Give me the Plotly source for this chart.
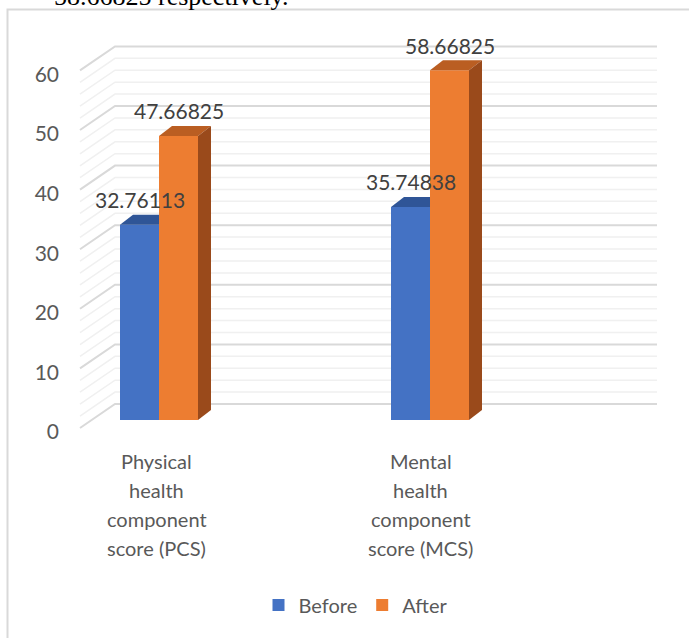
import plotly.graph_objects as go

# ---------------- data ----------------
CATEGORIES = ["Physical health component score (PCS)", "Mental health component score (MCS)"]
CATEGORY_LINES = [["Physical", "health", "component", "score (PCS)"],
                  ["Mental", "health", "component", "score (MCS)"]]
SERIES_NAMES = ["Before", "After"]
BEFORE = [32.76113, 35.74838]
AFTER = [47.66825, 58.66825]
Y_TICKS = [0, 10, 20, 30, 40, 50, 60]
GRID_STEP = 2
CAPTION = "58.66825 respectively."

# ---------------- geometry / style ----------------
W, H = 689, 638
ML, MR, MT, MB = 64, 0, 10, 130
PX_PER_X = 271.0          # pixels per category
PX_PER_Y = 5.96           # pixels per value unit
X0_PIX = 159.0            # pixel of category 0 centre
Y0_PIX = 420.0            # pixel of value 0 on bar plane

plot_w = W - ML - MR
plot_h = H - MT - MB
x_min = (ML - X0_PIX) / PX_PER_X
x_max = (W - MR - X0_PIX) / PX_PER_X
y_max = (Y0_PIX - MT) / PX_PER_Y
y_min = (Y0_PIX - (H - MB)) / PX_PER_Y

def dx(px):  # pixel length -> x units
    return px / PX_PER_X

def dy(px):  # pixel length -> y units
    return px / PX_PER_Y

def paper_x(px):
    return (px - ML) / plot_w

def paper_y(py):
    return (H - MB - py) / plot_h

BAR_W = dx(39)
DEPTH_X = dx(13)
DEPTH_Y = dy(10)

BLUE, BLUE_TOP = "#4472C4", "#2F5597"
ORANGE, ORANGE_TOP, ORANGE_SIDE = "#ED7D31", "#BA5E22", "#9A4A1B"

# wall geometry (front-left, back-left, back-right) in data units
WALL_FRONT_X = dx(80 - X0_PIX)
WALL_BACK_X = dx(115 - X0_PIX)
WALL_RIGHT_X = dx(657 - X0_PIX)
FRONT_DY = -dy(8)
BACK_DY = dy(16)

fig = go.Figure()

cats = list(range(len(CATEGORIES)))
fig.add_trace(go.Bar(x=cats, y=BEFORE, name=SERIES_NAMES[0], width=BAR_W, offset=-BAR_W,
                     marker=dict(color=BLUE, line=dict(width=0)), hoverinfo="skip"))
fig.add_trace(go.Bar(x=cats, y=AFTER, name=SERIES_NAMES[1], width=BAR_W, offset=0,
                     marker=dict(color=ORANGE, line=dict(width=0)), hoverinfo="skip"))

# 3D faces
for i in cats:
    # Before: top face (clipped where the After bar is in front)
    x0, x1 = i - BAR_W, i
    t = BEFORE[i]
    fig.add_trace(go.Scatter(
        x=[x0, x1, x1, x0 + DEPTH_X, x0], y=[t, t, t + DEPTH_Y, t + DEPTH_Y, t],
        fill="toself", fillcolor=BLUE_TOP, mode="none", showlegend=False, hoverinfo="skip"))
    # After: top & side faces
    x0, x1 = i, i + BAR_W
    t = AFTER[i]
    fig.add_trace(go.Scatter(
        x=[x0, x1, x1 + DEPTH_X, x0 + DEPTH_X, x0], y=[t, t, t + DEPTH_Y, t + DEPTH_Y, t],
        fill="toself", fillcolor=ORANGE_TOP, mode="none", showlegend=False, hoverinfo="skip"))
    fig.add_trace(go.Scatter(
        x=[x1, x1 + DEPTH_X, x1 + DEPTH_X, x1, x1], y=[0, DEPTH_Y, t + DEPTH_Y, t, 0],
        fill="toself", fillcolor=ORANGE_SIDE, mode="none", showlegend=False, hoverinfo="skip"))

shapes = []
# wall gridlines
v = Y_TICKS[0]
while v <= Y_TICKS[-1]:
    major = v in Y_TICKS
    path = "M {a},{b} L {c},{d} L {e},{d}".format(
        a=WALL_FRONT_X, b=v + FRONT_DY, c=WALL_BACK_X, d=v + BACK_DY, e=WALL_RIGHT_X)
    shapes.append(dict(type="path", path=path, xref="x", yref="y", layer="below",
                       line=dict(color="#D9D9D9" if major else "#F0F0F0",
                                 width=2 if major else 1.5)))
    v += GRID_STEP

# chart border (left + top)
shapes.append(dict(type="path", xref="paper", yref="paper", layer="below",
                   path="M {a},{b} L {a},{c} L {d},{c}".format(
                       a=paper_x(7.5), b=paper_y(H + 2), c=paper_y(9.5), d=paper_x(W + 2)),
                   line=dict(color="#D9D9D9", width=2)))

annotations = []
# data labels
for series, off in ((BEFORE, -BAR_W / 2), (AFTER, BAR_W / 2)):
    for i, val in enumerate(series):
        annotations.append(dict(x=i + off, y=val, xref="x", yref="y", text=f"{val:.5f}",
                                showarrow=False, yanchor="middle", yshift=25,
                                font=dict(family="Lato", size=21, color="#404040")))

# category labels (front plane, slight perspective)
FRONT_SCALE = 0.973
for i, lines in enumerate(CATEGORY_LINES):
    xc = WALL_FRONT_X + (i - WALL_FRONT_X) * FRONT_SCALE
    for k, line in enumerate(lines):
        annotations.append(dict(x=xc, y=-dy(461 - Y0_PIX), xref="x", yref="y", text=line,
                                showarrow=False, yanchor="middle", yshift=-29 * k,
                                font=dict(family="Lato", size=20, color="#595959")))

# cropped caption at very top
annotations.append(dict(x=paper_x(52), y=paper_y(-4), xref="paper", yref="paper",
                        text=CAPTION, showarrow=False, xanchor="left", yanchor="middle",
                        font=dict(family="Liberation Serif", size=26, color="#000000")))

fig.update_layout(
    width=W, height=H,
    margin=dict(l=ML, r=MR, t=MT, b=MB, pad=0),
    paper_bgcolor="white", plot_bgcolor="white",
    barmode="overlay",
    shapes=shapes, annotations=annotations,
    showlegend=True,
    legend=dict(orientation="h", x=paper_x(356), xanchor="center", y=paper_y(605),
                yanchor="middle", font=dict(family="Lato", size=20, color="#595959"),
                traceorder="normal", itemwidth=30, bgcolor="rgba(0,0,0,0)"),
    xaxis=dict(range=[x_min, x_max], showgrid=False, zeroline=False, showline=False,
               showticklabels=False, ticks="", fixedrange=True),
    yaxis=dict(range=[y_min, y_max], tickvals=Y_TICKS, ticktext=[str(t) for t in Y_TICKS],
               showgrid=False, zeroline=False, showline=False, ticks="",
               ticklabelshift=12, ticklabelstandoff=4,
               tickfont=dict(family="Lato", size=21, color="#595959"), fixedrange=True),
    font=dict(family="Lato"),
)

fig.write_html("out.html", config={"displayModeBar": False})
